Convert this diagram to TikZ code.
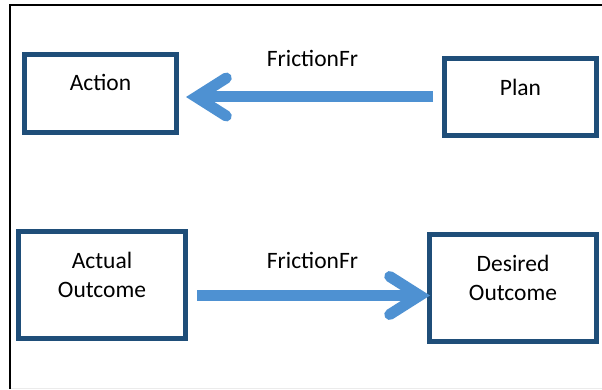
\documentclass[tikz,border=0pt]{standalone}
\usepackage{fontspec}
\setmainfont{Carlito}
\usepackage{xcolor}
\usetikzlibrary{arrows.meta}
\definecolor{boxblue}{HTML}{1F4E79}
\definecolor{flowblue}{HTML}{4E91D2}

\begin{document}
\begin{tikzpicture}[
    x=1pt, y=1pt,
    >={Straight Barb[length=30pt, width=38pt, line cap=round, line join=miter]},
    font=\fontsize{23.5pt}{29.5pt}\selectfont,
    box/.style={draw=boxblue, line width=5pt, fill=white},
    word/.style={inner sep=0pt, align=center, below=22.5pt},
    flow/.style={->, draw=flowblue, line width=11pt}
]
\useasboundingbox (0,0) rectangle (602,389);
\draw[line width=2pt] (602,384) -- (10,384) -- (10,0);
\draw[black!8, line width=0.8pt] (11,1) -- (602,1);

\node[box, minimum width=152pt, minimum height=78pt, label={[word]north:Action}] (action) at (100.5,295.5) {};
\node[box, minimum width=152pt, minimum height=77pt, label={[word]north:Plan}] (plan) at (520.5,292) {};
\node[box, minimum width=167pt, minimum height=107pt, label={[word]north:Actual\\Outcome}] (actual) at (102,104) {};
\node[box, minimum width=167pt, minimum height=107pt, label={[word]north:Desired\\Outcome}] (desired) at (513,101) {};

\draw[flow, shorten <=9pt, shorten >=7pt] (plan.west) -- (plan.west -| action.east)
    node[midway, above=25pt, inner sep=0pt, xshift=2pt] {FrictionFr};
\draw[flow, shorten <=9pt, shorten >=-3pt] ([yshift=-10.5pt]actual.east) -- ([yshift=-10.5pt]actual.east -| desired.west)
    node[midway, above=21pt, inner sep=0pt, xshift=5pt] {FrictionFr};
\end{tikzpicture}
\end{document}
